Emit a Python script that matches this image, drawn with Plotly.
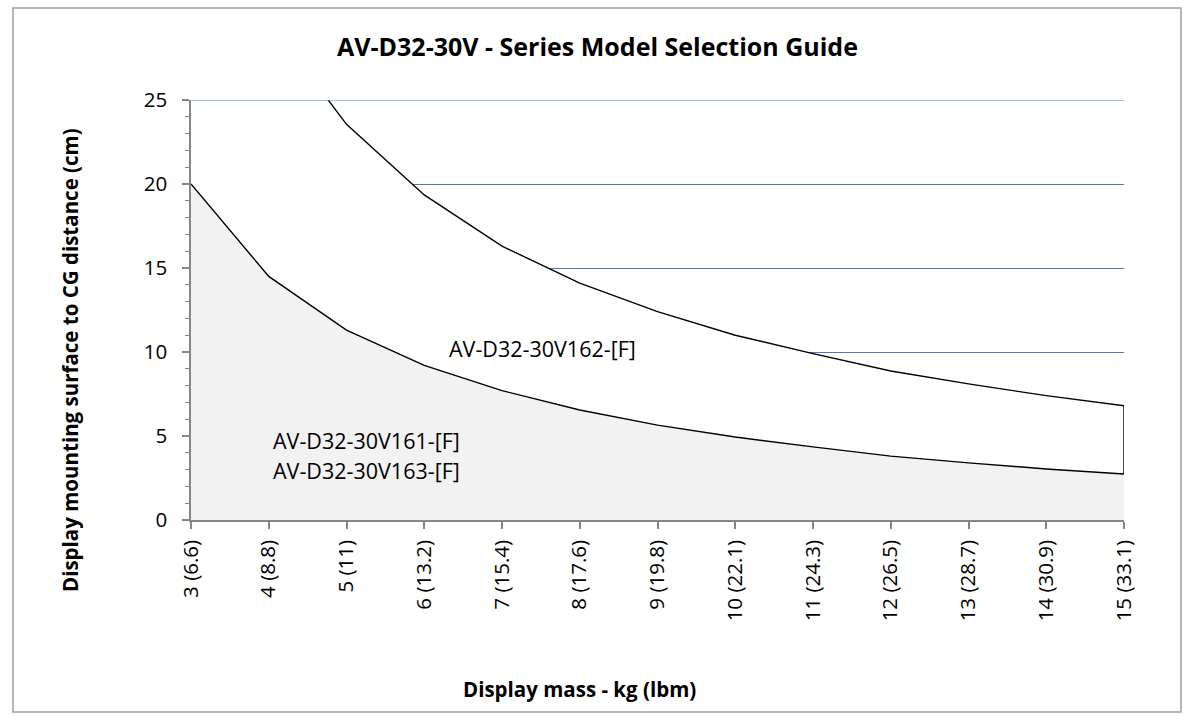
import plotly.graph_objects as go

mass_kg = [3, 4, 5, 6, 7, 8, 9, 10, 11, 12, 13, 14, 15]
mass_labels = ["3 (6.6)", "4 (8.8)", "5 (11)", "6 (13.2)", "7 (15.4)", "8 (17.6)",
               "9 (19.8)", "10 (22.1)", "11 (24.3)", "12 (26.5)", "13 (28.7)",
               "14 (30.9)", "15 (33.1)"]
# distance limits (cm)
v161_163 = [20.0, 14.5, 11.3, 9.2, 7.7, 6.55, 5.65, 4.94, 4.35, 3.8, 3.4, 3.04, 2.74]
v162 = [39.5, 29.7, 23.55, 19.35, 16.3, 14.1, 12.4, 11.0, 9.9, 8.87, 8.1, 7.4, 6.8]

FONT = "Open Sans"
W, H = 1192, 716
L, R, T, B = 191, 1124, 100, 520
PW, PH = R - L, B - T


def px(x):
    return (x - L) / PW


def py(y):
    return (B - y) / PH


fig = go.Figure()

# upper region (white fill hides gridlines beneath)
fig.add_trace(go.Scatter(
    x=mass_kg + [mass_kg[-1]], y=v162 + [0],
    mode="lines", line=dict(color="black", width=1.4),
    fill="tozeroy", fillcolor="white", hoverinfo="skip", showlegend=False))
# lower region
fig.add_trace(go.Scatter(
    x=mass_kg, y=v161_163,
    mode="lines", line=dict(color="black", width=1.4),
    fill="tozeroy", fillcolor="#F2F2F2", hoverinfo="skip", showlegend=False))

fig.update_layout(
    width=W, height=H,
    margin=dict(l=L, r=W - R, t=T, b=H - B),
    paper_bgcolor="white", plot_bgcolor="white",
    font=dict(family=FONT, color="black"),
    showlegend=False,
    xaxis=dict(
        range=[3, 15], tickmode="array", tickvals=mass_kg, ticktext=mass_labels,
        tickangle=-90, tickfont=dict(size=20.5, family=FONT), ticklabelstandoff=3,
        showgrid=False, zeroline=False, showline=True, linecolor="#868686", linewidth=1.5,
        ticks="outside", ticklen=7, tickcolor="#868686", tickwidth=1.5,
    ),
    yaxis=dict(
        range=[0, 25], tickmode="linear", tick0=0, dtick=5,
        tickfont=dict(size=20.5, family=FONT), ticklabelstandoff=11,
        showgrid=True, gridcolor="#4A7EBB", gridwidth=1.2, zeroline=False,
        showline=True, linecolor="#868686", linewidth=1.5,
        ticks="outside", ticklen=7, tickcolor="#868686", tickwidth=1.5,
        minor=dict(dtick=1, ticks="outside", ticklen=4, tickcolor="#868686", tickwidth=1.2, showgrid=False),
    ),
    shapes=[
        dict(type="line", xref="x", yref="y", x0=3, x1=15, y0=25, y1=25,
             line=dict(color="#4A7EBB", width=1.2), layer="above"),
        dict(type="rect", xref="paper", yref="paper",
             x0=px(13), x1=px(1181), y0=py(712), y1=py(8),
             line=dict(color="#A0A0A0", width=1.5), layer="below"),
    ],
    annotations=[
        dict(text="<b>AV-D32-30V - Series Model Selection Guide</b>", xref="paper", yref="paper",
             x=px(597), y=py(46), xanchor="center", yanchor="middle",
             showarrow=False, font=dict(size=25, family=FONT)),
        dict(text="<b>Display mass - kg (lbm)</b>", xref="paper", yref="paper",
             x=px(579), y=py(689), xanchor="center", yanchor="middle",
             showarrow=False, font=dict(size=20.5, family=FONT)),
        dict(text="<b>Display mounting surface to CG distance (cm)</b>", xref="paper", yref="paper",
             x=px(70), y=py(360), xanchor="center", yanchor="middle",
             textangle=-90, showarrow=False, font=dict(size=20.5, family=FONT)),
        dict(text="AV-D32-30V162-[F]", xref="paper", yref="paper",
             x=px(447), y=py(348), xanchor="left", yanchor="middle",
             showarrow=False, font=dict(size=21.5, family=FONT)),
        dict(text="AV-D32-30V161-[F]", xref="paper", yref="paper",
             x=px(271), y=py(440), xanchor="left", yanchor="middle",
             showarrow=False, font=dict(size=21.5, family=FONT)),
        dict(text="AV-D32-30V163-[F]", xref="paper", yref="paper",
             x=px(271), y=py(470), xanchor="left", yanchor="middle",
             showarrow=False, font=dict(size=21.5, family=FONT)),
    ],
)

fig.write_html("out.html", config={"displayModeBar": False},
               post_script="document.body.style.margin='0';document.body.style.overflow='hidden';")
